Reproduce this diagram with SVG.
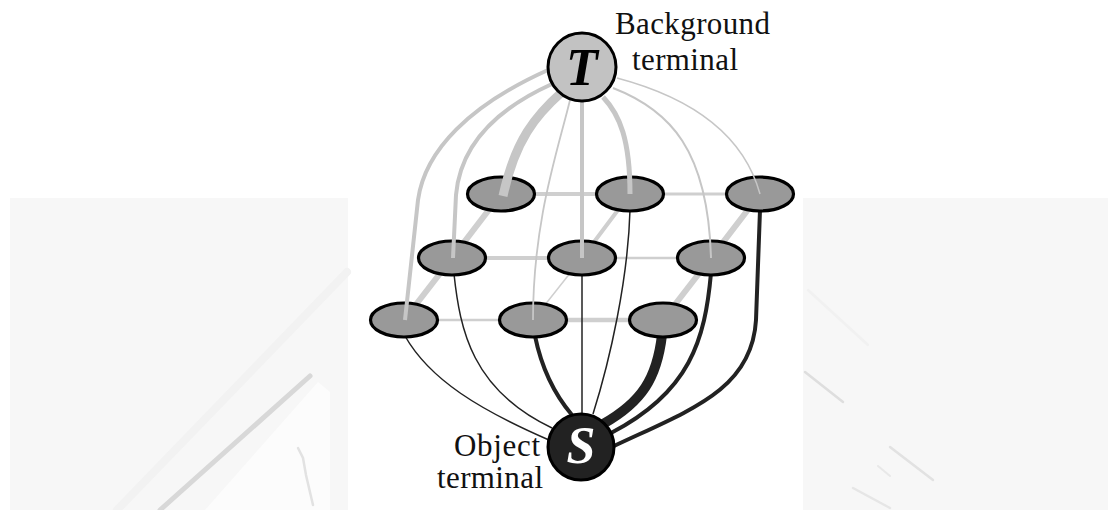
<svg xmlns="http://www.w3.org/2000/svg" width="1108" height="510" viewBox="0 0 1108 510">
  <style>
    .panel { fill: #f7f7f7; }
    .streak { fill: none; stroke-linecap: round; }
    .grid { fill: none; stroke: #cfcfcf; stroke-linecap: round; }
    .tedge { fill: none; stroke: #c6c6c6; stroke-linecap: butt; }
    .sedge { fill: none; stroke: #222; stroke-linecap: butt; }
    .pixel { fill: #999; stroke: #000; stroke-width: 3.2; }
    .label { font-family: "Liberation Serif", "Times New Roman", serif; font-size: 31px; fill: #111; }
    .term { font-family: "Liberation Serif", "Times New Roman", serif; font-weight: bold; font-style: italic; }
  </style>

  <rect width="1108" height="510" fill="#fff"/>

  <!-- faded side panels -->
  <g id="panels">
    <rect class="panel" x="10" y="198" width="338" height="312"/>
    <rect class="panel" x="803" y="198" width="305" height="312"/>
    <path class="streak" d="M347,272 L117,510" stroke="#f2f2f2" stroke-width="8"/>
    <path d="M318,382 L330,392 L330,510 L205,510 Z" fill="#fcfcfc"/>
    <path class="streak" d="M310,376 L160,510" stroke="#d8d8d8" stroke-width="5"/>
    <path class="streak" d="M298,448 L303,458 L306,475 L313,505" stroke="#e2e2e2" stroke-width="2.5"/>
    <path class="streak" d="M805,372 L843,402" stroke="#dedede" stroke-width="2.5"/>
    <path class="streak" d="M808,290 L868,345" stroke="#f1f1f1" stroke-width="2.5"/>
    <path class="streak" d="M890,447 L933,480" stroke="#e2e2e2" stroke-width="2.5"/>
    <path class="streak" d="M878,466 L890,476" stroke="#e8e8e8" stroke-width="2"/>
    <path class="streak" d="M853,488 L890,508" stroke="#e6e6e6" stroke-width="2.5"/>
  </g>

  <!-- neighbourhood links between pixels -->
  <g id="grid-links">
    <line class="grid" x1="501" y1="194" x2="630" y2="194" stroke-width="4"/>
    <line class="grid" x1="630" y1="194" x2="760" y2="194" stroke-width="3"/>
    <line class="grid" x1="452" y1="258" x2="582" y2="258" stroke-width="4"/>
    <line class="grid" x1="582" y1="258" x2="711" y2="258" stroke-width="2.5"/>
    <line class="grid" x1="404" y1="320" x2="533" y2="320" stroke-width="2.5"/>
    <line class="grid" x1="533" y1="320" x2="663" y2="320" stroke-width="4.5"/>
    <line class="grid" x1="501" y1="194" x2="452" y2="258" stroke-width="6"/>
    <line class="grid" x1="452" y1="258" x2="404" y2="320" stroke-width="6"/>
    <line class="grid" x1="630" y1="194" x2="582" y2="258" stroke-width="4"/>
    <line class="grid" x1="582" y1="258" x2="533" y2="320" stroke-width="1.5"/>
    <line class="grid" x1="760" y1="194" x2="711" y2="258" stroke-width="6"/>
    <line class="grid" x1="711" y1="258" x2="663" y2="320" stroke-width="6"/>
  </g>

  <!-- links to the object terminal S -->
  <g id="s-links">
    <path class="sedge" d="M405,336 C430,380 480,410 549,440" stroke-width="1.5" stroke="#444"/>
    <path class="sedge" d="M454,274 C460,330 472,390 552,428" stroke-width="1.5" stroke="#444"/>
    <path class="sedge" d="M535,336 C542,370 555,395 572,415" stroke-width="4"/>
    <line class="sedge" x1="582" y1="274" x2="582" y2="414" stroke-width="1.5" stroke="#444"/>
    <path class="sedge" d="M630,210 C628,280 610,360 593,414" stroke-width="1.5" stroke="#444"/>
    <path class="sedge" d="M662,335 C657,378 642,402 603,424" stroke-width="10"/>
    <path class="sedge" d="M711,273 C705,340 690,392 611,433" stroke-width="4"/>
    <path class="sedge" d="M760,210 L756,320 C752,390 690,410 614,446" stroke-width="4"/>
  </g>

  <!-- pixel nodes -->
  <g id="p11"><ellipse class="pixel" cx="501" cy="194" rx="33.5" ry="17"/></g>
  <g id="p12"><ellipse class="pixel" cx="630" cy="194" rx="33.5" ry="17"/></g>
  <g id="p13"><ellipse class="pixel" cx="760" cy="194" rx="33.5" ry="17"/></g>
  <g id="p21"><ellipse class="pixel" cx="452" cy="258" rx="33.5" ry="17"/></g>
  <g id="p22"><ellipse class="pixel" cx="582" cy="258" rx="33.5" ry="17"/></g>
  <g id="p23"><ellipse class="pixel" cx="711" cy="258" rx="33.5" ry="17"/></g>
  <g id="p31"><ellipse class="pixel" cx="404" cy="320" rx="33.5" ry="17"/></g>
  <g id="p32"><ellipse class="pixel" cx="533" cy="320" rx="33.5" ry="17"/></g>
  <g id="p33"><ellipse class="pixel" cx="663" cy="320" rx="33.5" ry="17"/></g>

  <!-- links to the background terminal T -->
  <g id="t-links">
    <path class="tedge" d="M548,70 C470,105 425,150 418,200 L405,320" stroke-width="4"/>
    <path class="tedge" d="M552,84 C490,112 460,150 456,195 L453,258" stroke-width="4"/>
    <path class="tedge" d="M562,92 C536,115 515,140 503,196" stroke-width="9"/>
    <path class="tedge" d="M570,100 C558,150 533,220 533,320" stroke-width="1.8"/>
    <line class="tedge" x1="582" y1="100" x2="582" y2="258" stroke-width="4"/>
    <path class="tedge" d="M603,97 C620,115 630,140 630,194" stroke-width="5"/>
    <path class="tedge" d="M613,88 C670,110 708,150 711,258" stroke-width="2"/>
    <path class="tedge" d="M617,78 C700,100 745,140 760,194" stroke-width="1.5"/>
  </g>

  <!-- terminal nodes -->
  <g id="terminal-T">
    <circle cx="582" cy="67" r="34" fill="#c2c2c2" stroke="#000" stroke-width="3"/>
    <text class="term" x="582" y="85" font-size="52" text-anchor="middle" fill="#000">T</text>
    <text class="label" x="615" y="34" textLength="155" lengthAdjust="spacing">Background</text>
    <text class="label" x="632" y="70" textLength="106" lengthAdjust="spacing">terminal</text>
  </g>
  <g id="terminal-S">
    <circle cx="581" cy="447" r="33" fill="#222" stroke="#000" stroke-width="3"/>
    <text class="term" x="581" y="463" font-size="52" text-anchor="middle" fill="#fff">S</text>
    <text class="label" x="454" y="456" textLength="86" lengthAdjust="spacing">Object</text>
    <text class="label" x="437" y="488" textLength="106" lengthAdjust="spacing">terminal</text>
  </g>
</svg>
